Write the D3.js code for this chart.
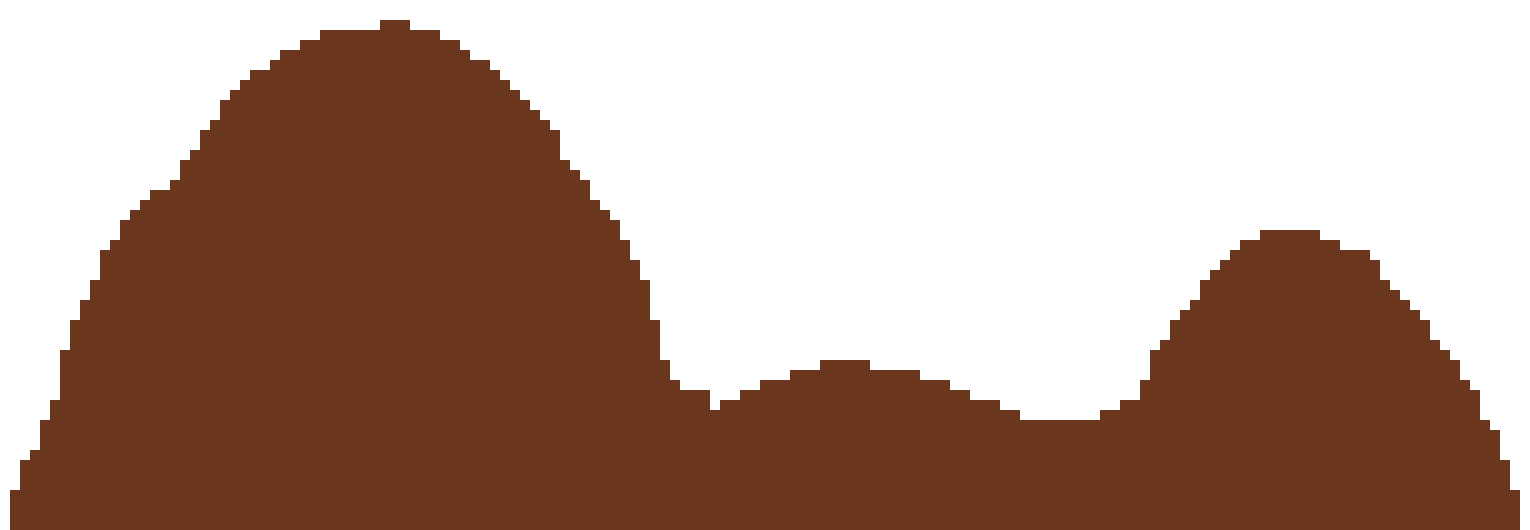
<!DOCTYPE html>
<html>
<head>
<meta charset="utf-8">
<script src="https://cdn.jsdelivr.net/npm/d3@7"></script>
<style>
html,body{margin:0;padding:0;background:#fff;overflow:hidden;}
svg{display:block;}
</style>
</head>
<body>
<svg id="chart" width="1530" height="530"></svg>
<script>
const values = [
  4,7,8,11,13,18,21,23,25,28, 29,31,32,33,34,34,35,37,38,40,
  41,43,44,45,46,46,47,48,48,49, 49,50,50,50,50,50,50,51,51,51,
  50,50,50,49,49,48,47,47,46,45, 44,43,42,41,40,37,36,35,33,32,
  31,29,27,25,21,17,15,14,14,14, 12,13,13,14,14,15,15,15,16,16,
  16,17,17,17,17,17,16,16,16,16, 16,15,15,15,14,14,13,13,13,12,
  12,11,11,11,11,11,11,11,11,12, 12,13,13,15,18,19,21,22,23,25,
  26,27,28,29,29,30,30,30,30,30, 30,29,29,28,28,28,27,25,24,23,
  22,21,19,18,17,15,14,11,10,7, 4
];
const categories = values.map((_, i) => i);
const yDomain = [0, 53];

const W = 1530, H = 530;
const margin = {top: 0, right: 10, bottom: 0, left: 10};
const svg = d3.select("#chart");

const x = d3.scaleBand().domain(categories).range([margin.left, W - margin.right]).padding(0);
const y = d3.scaleLinear().domain(yDomain).range([H - margin.bottom, margin.top]);

svg.append("g")
  .attr("shape-rendering", "crispEdges")
  .selectAll("rect")
  .data(values)
  .join("rect")
  .attr("x", (d, i) => x(categories[i]))
  .attr("width", x.bandwidth())
  .attr("y", d => y(d))
  .attr("height", d => y(0) - y(d))
  .attr("fill", "#6a361d");
</script>
</body>
</html>
